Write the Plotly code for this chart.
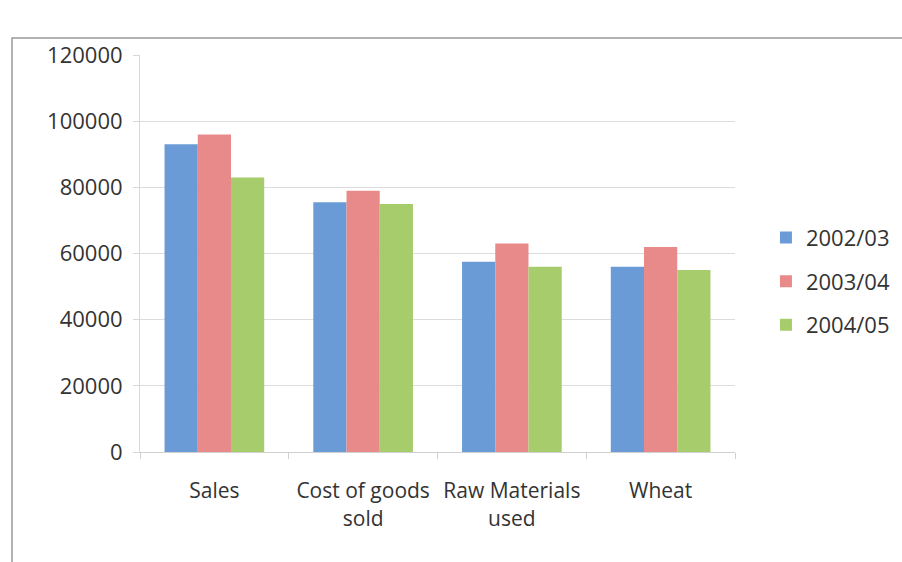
import plotly.graph_objects as go

categories = ["Sales", "Cost of goods<br>sold", "Raw Materials<br>used", "Wheat"]
series_names = ["2002/03", "2003/04", "2004/05"]
v_2002 = [93000, 75500, 57500, 56000]
v_2003 = [96000, 79000, 63000, 62000]
v_2004 = [83000, 75000, 56000, 55000]
values = [v_2002, v_2003, v_2004]
colors = ["#6b9bd6", "#e88a8a", "#a7cc6c"]

FONT = "Open Sans, sans-serif"

fig = go.Figure()
for i, (name, vals, col) in enumerate(zip(series_names, values, colors)):
    fig.add_trace(go.Bar(
        x=categories, y=vals, name=name, marker_color=col,
        marker_line_width=0, legendgroup=name,
    ))

fig.update_layout(
    width=902, height=562,
    margin=dict(l=140, r=167, t=55, b=110, autoexpand=False),
    paper_bgcolor="white", plot_bgcolor="white",
    barmode="group", bargap=0.33, bargroupgap=0,
    font=dict(family=FONT, size=21, color="#333333"),
    showlegend=True,
    legend=dict(x=1.052, y=0.43, xanchor="left", yanchor="middle",
                font=dict(size=22, color="#333333"), tracegroupgap=12,
                itemwidth=30),
    xaxis=dict(showline=True, linecolor="#d0d0d0", linewidth=1,
               ticks="outside", ticklen=6, tickcolor="#d0d0d0",
               tickson="boundaries", showgrid=False, ticklabelstandoff=20,
               tickfont=dict(size=21, color="#333333")),
    yaxis=dict(range=[0, 120000], dtick=20000, showline=True,
               linecolor="#d8d8d8", linewidth=1, ticks="outside",
               ticklen=6, tickcolor="#d8d8d8", showgrid=True,
               gridcolor="#dcdcdc", gridwidth=1, zeroline=False,
               tickformat="d", ticklabelstandoff=6,
               tickfont=dict(size=22, color="#333333")),
    shapes=[dict(type="rect", xref="paper", yref="paper",
                 x0=-128/595, x1=1.3, y0=-0.4, y1=(452-38)/397,
                 line=dict(color="#9a9a9a", width=1.5), layer="below")],
)

fig.write_html("out.html")
